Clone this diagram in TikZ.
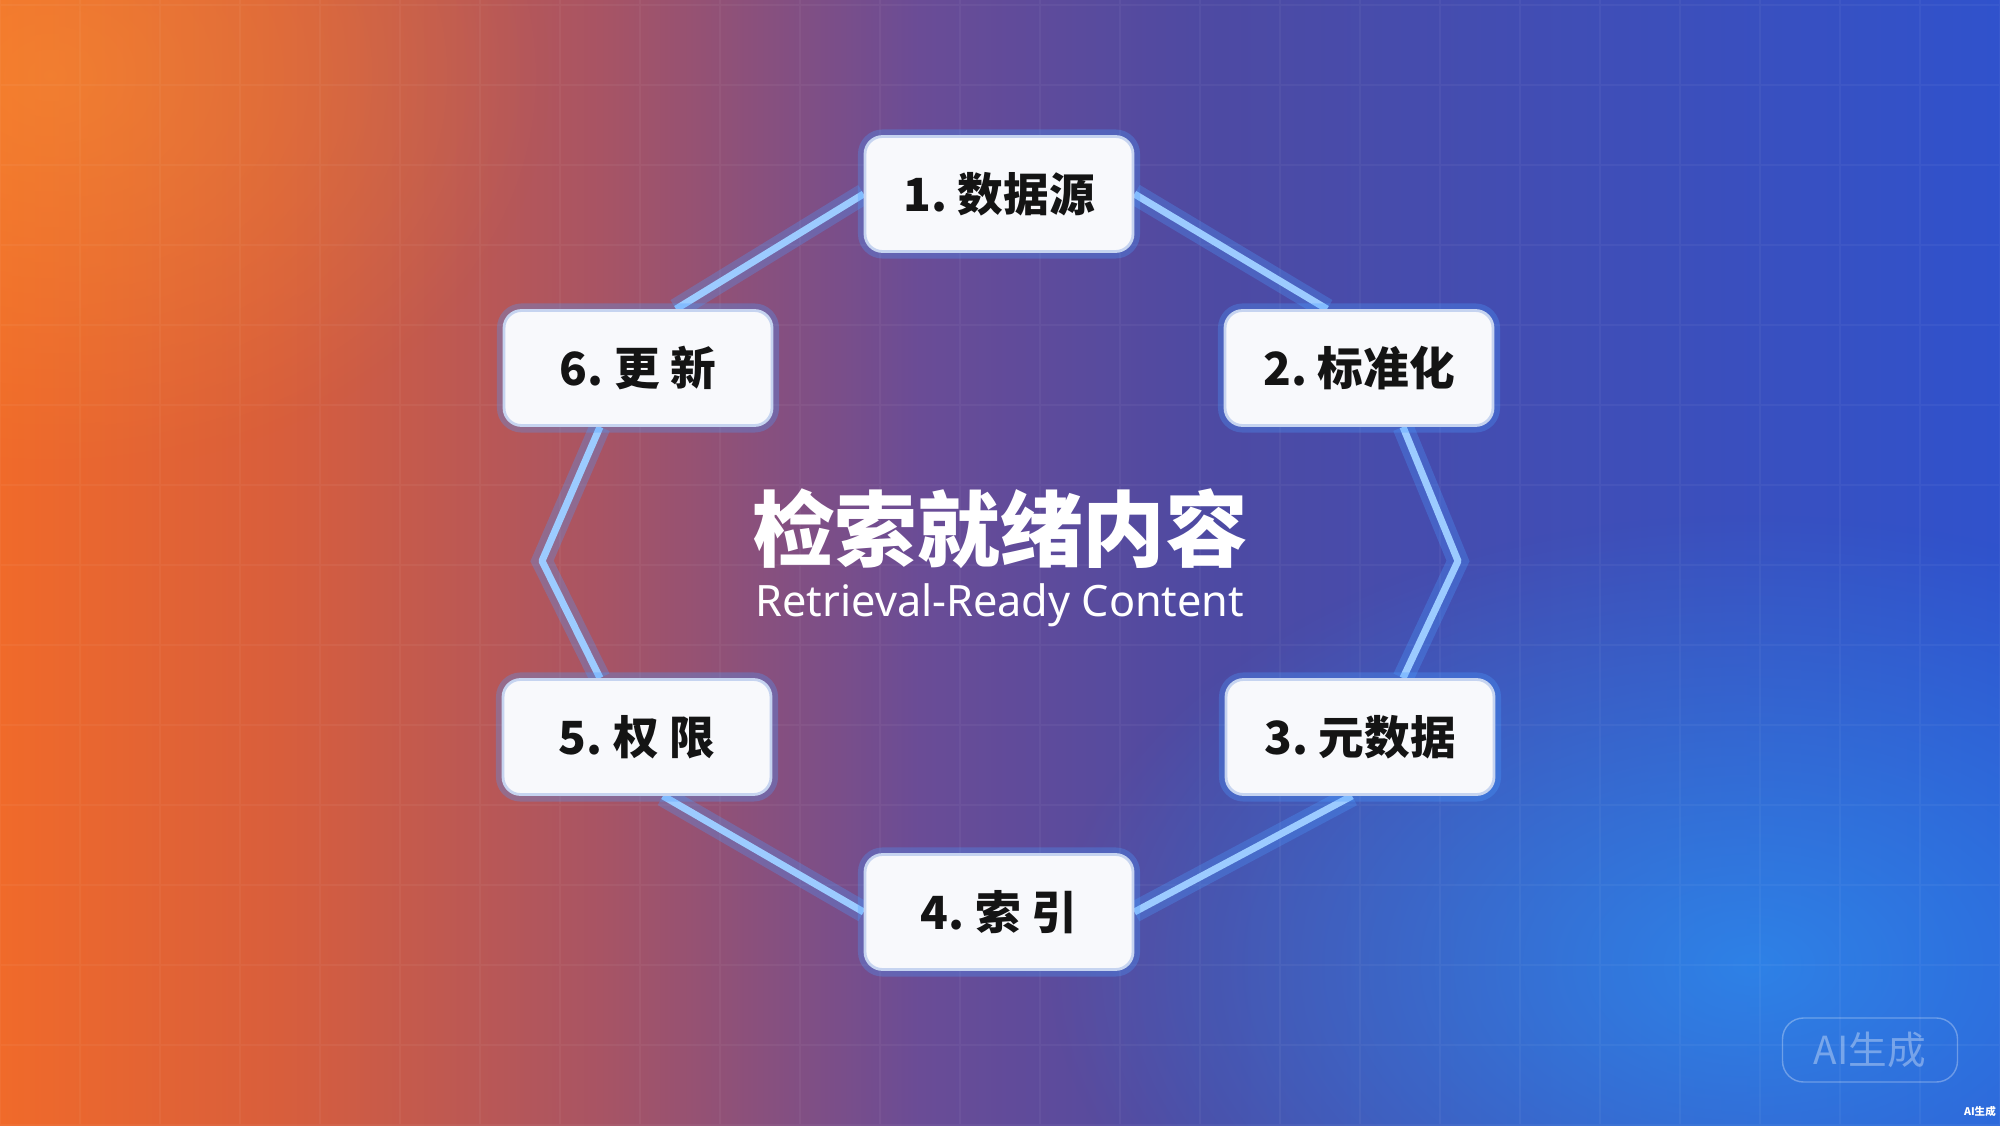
\documentclass[tikz,border=0pt]{standalone}
\usepackage{fontspec}
\setmainfont{Noto Sans CJK SC}
\newfontfamily\latinsans{Noto Sans}
\usetikzlibrary{calc,fadings,backgrounds}
\definecolor{bgorange}{HTML}{F7902B}
\definecolor{bgorangemid}{HTML}{F57D26}
\definecolor{bgorangedeep}{HTML}{F06A2A}
\definecolor{bgrust}{HTML}{D85E3C}
\definecolor{bgmauve}{HTML}{A85464}
\definecolor{bgviolet}{HTML}{6A4C96}
\definecolor{bgpurple}{HTML}{4E4AA2}
\definecolor{bgindigo}{HTML}{3052CC}
\definecolor{bgblue}{HTML}{2258DA}
\definecolor{glowsky}{HTML}{2A92F4}
\definecolor{glowamber}{HTML}{FBA035}
\definecolor{boxwhite}{HTML}{F8F9FC}
\definecolor{boxedge}{HTML}{C6D4F0}
\definecolor{boxtext}{HTML}{141414}
\definecolor{ringblue}{HTML}{9CCBFF}
\definecolor{ringglow}{HTML}{4C9BFF}
\pgfdeclarehorizontalshading{bgwash}{100bp}{color(0bp)=(bgorange); color(15bp)=(bgorangemid); color(25bp)=(bgorangedeep); color(32bp)=(bgrust); color(40bp)=(bgmauve); color(48bp)=(bgviolet); color(55bp)=(bgpurple); color(75bp)=(bgindigo); color(100bp)=(bgblue)}
\tikzfading[name=glowout,inner color=transparent!0,outer color=transparent!100]
\pgfdeclarelayer{links}
\pgfsetlayers{background,links,main}

\begin{document}
\begin{tikzpicture}[x=1cm,y=1cm,
	stepbox/.style={rounded corners=5pt,fill=boxwhite,draw=boxedge,line width=0.8pt,
		minimum width=2.68cm,minimum height=1.15cm,text=boxtext,
		font=\bfseries\fontsize{13}{15}\selectfont,
		preaction={draw=ringglow,line width=4pt,opacity=0.3}},
	ring/.style={draw=ringblue,line width=2pt,line join=round,
		preaction={draw=ringglow,line width=6pt,opacity=0.3}}]

\useasboundingbox (0,0) rectangle (20,11.25);

\begin{pgfonlayer}{background}
\shade[shading=bgwash] (0,0) rectangle (20,11.25);
\fill[glowsky,path fading=glowout,opacity=0.75] (17.5,1.6) ellipse (7 and 4.5);
\fill[glowamber,path fading=glowout,opacity=0.4] (0.5,10.5) ellipse (5 and 4);
\draw[white,opacity=0.045,line width=0.4pt] (0,0) grid[step=0.8] (20,11.25);
\end{pgfonlayer}

\node[stepbox] (s1) at (9.99,9.31) {1.\ 数据源};
\node[stepbox] (s2) at (13.59,7.57) {2.\ 标准化};
\node[stepbox] (s3) at (13.60,3.88) {3.\ 元数据};
\node[stepbox] (s4) at (9.99,2.13) {4.\ 索\ 引};
\node[stepbox] (s5) at (6.37,3.88) {5.\ 权\ 限};
\node[stepbox] (s6) at (6.38,7.57) {6.\ 更\ 新};

\coordinate (kl) at (5.42,5.64);
\coordinate (kr) at (14.58,5.64);

\begin{pgfonlayer}{links}
\draw[ring] (s1.west) -- ([xshift=3.8mm]s6.north);
\draw[ring] ([xshift=-3.8mm]s6.south) -- (kl) -- ([xshift=-3.7mm]s5.north);
\draw[ring] ([xshift=2.6mm]s5.south) -- (s4.west);
\draw[ring] (s4.east) -- ([xshift=-0.8mm]s3.south);
\draw[ring] ([xshift=4.3mm]s3.north) -- (kr) -- ([xshift=4.4mm]s2.south);
\draw[ring] ([xshift=-3.2mm]s2.north) -- (s1.east);
\end{pgfonlayer}

\node[text=white,font=\bfseries\fontsize{23.5}{26}\selectfont] (title) at (10,5.96) {检索就绪内容};
\node[text=white,font=\latinsans\fontsize{12.3}{14}\selectfont] (sub) at (10,5.20) {Retrieval-Ready Content};

\node[draw=white,draw opacity=0.3,rounded corners=6pt,minimum width=1.75cm,minimum height=0.64cm,
	text=white,text opacity=0.35,font=\fontsize{11}{12}\selectfont] (mark) at (18.70,0.75) {AI生成};
\node[text=white,font=\bfseries\fontsize{3}{3.5}\selectfont,anchor=south east,inner sep=1pt] (tag) at (20,0.04) {AI生成};

\end{tikzpicture}
\end{document}
